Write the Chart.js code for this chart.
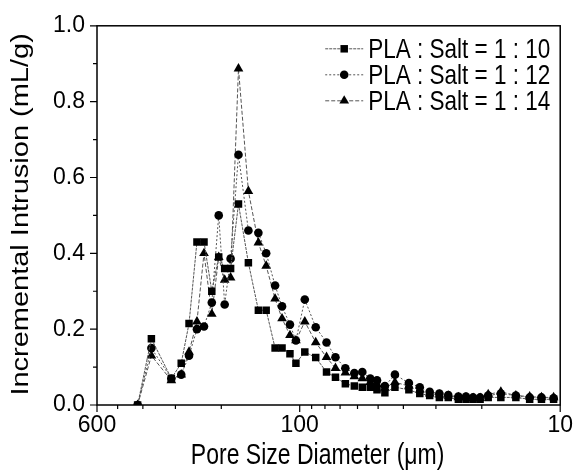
<!DOCTYPE html>
<html><head><meta charset="utf-8">
<script src="https://cdn.jsdelivr.net/npm/chart.js@4.4.0/dist/chart.umd.min.js"></script>
<style>html,body{margin:0;padding:0;background:#fff;}#wrap{width:580px;height:474px;}</style>
</head><body><div id="wrap"><canvas id="c" width="580" height="474"></canvas></div>
<script>
const poreDiameters = [419, 371, 311, 285, 266, 248, 233, 217.5, 204.6, 194.1, 184.2, 171.8, 157.4, 144.1, 134.5, 124.3, 116.9, 109.0, 103.4, 95.6, 86.8, 78.9, 72.9, 66.8, 61.7, 57.5, 53.6, 50.5, 47.1, 43.1, 38.1, 34.6, 31.7, 29.1, 26.9, 24.6, 23.0, 21.6, 20.3, 18.9, 16.9, 14.8, 13.1, 11.8, 10.6];
const salt10 = [0.0, 0.175, 0.07, 0.11, 0.215, 0.43, 0.43, 0.30, 0.39, 0.36, 0.36, 0.53, 0.375, 0.25, 0.25, 0.15, 0.15, 0.135, 0.11, 0.14, 0.125, 0.087, 0.073, 0.056, 0.05, 0.047, 0.047, 0.04, 0.032, 0.047, 0.04, 0.03, 0.025, 0.02, 0.02, 0.015, 0.015, 0.015, 0.015, 0.02, 0.02, 0.02, 0.015, 0.015, 0.015];
const salt12 = [0.0, 0.15, 0.07, 0.08, 0.13, 0.2, 0.207, 0.27, 0.50, 0.265, 0.386, 0.66, 0.46, 0.454, 0.40, 0.315, 0.26, 0.212, 0.17, 0.278, 0.205, 0.165, 0.126, 0.097, 0.084, 0.087, 0.07, 0.065, 0.05, 0.08, 0.058, 0.047, 0.035, 0.03, 0.026, 0.022, 0.022, 0.02, 0.02, 0.025, 0.03, 0.025, 0.02, 0.02, 0.018];
const salt14 = [0.0, 0.13, 0.065, 0.08, 0.14, 0.22, 0.40, 0.24, 0.39, 0.33, 0.336, 0.887, 0.564, 0.428, 0.367, 0.28, 0.228, 0.184, 0.17, 0.22, 0.165, 0.126, 0.097, 0.085, 0.075, 0.07, 0.06, 0.055, 0.045, 0.06, 0.05, 0.04, 0.03, 0.027, 0.024, 0.02, 0.02, 0.018, 0.018, 0.028, 0.035, 0.025, 0.022, 0.02, 0.02];
const seriesLabels = ['PLA : Salt = 1 : 10', 'PLA : Salt = 1 : 12', 'PLA : Salt = 1 : 14'];
const seriesMarkers = ['rect', 'circle', 'triangle'];
const xTickLabels = [600, 100, 10];
const xMinorTicks = [500, 400, 300, 200, 90, 80, 70, 60, 50, 40, 30, 20];
const yTicks = [0, 0.2, 0.4, 0.6, 0.8, 1.0];
const yMinorTicks = [0.1, 0.3, 0.5, 0.7, 0.9];
const xTitle = 'Pore Size Diameter (\u03bcm)';
const yTitle = 'Incremental Intrusion (mL/g)';

const FONT = 'Liberation Sans, Arial, sans-serif';
const seriesValues = [salt10, salt12, salt14];
const markerRadius = [5.3, 4.3, 5.6];
const dashes = [[3, 1], [2, 2], [4, 2]];
const STRETCH = 1.26; // text in the figure is taller than wide

const datasets = seriesValues.map((vals, i) => ({
  label: seriesLabels[i],
  data: poreDiameters.map((d, k) => ({x: d, y: vals[k]})),
  borderColor: '#555',
  borderWidth: 1,
  borderDash: dashes[i],
  backgroundColor: '#000',
  pointBackgroundColor: '#000',
  pointBorderColor: '#000',
  pointBorderWidth: 0,
  pointStyle: seriesMarkers[i],
  pointRadius: markerRadius[i],
  tension: 0,
  fill: false
}));

function stretchedText(ctx, text, x, y, size, align, rot) {
  ctx.save();
  ctx.translate(x, y);
  if (rot) ctx.rotate(rot);
  if (rot) ctx.scale(STRETCH, 1); else ctx.scale(1, STRETCH);
  ctx.font = size + 'px ' + FONT;
  ctx.textAlign = align;
  ctx.textBaseline = 'middle';
  ctx.fillStyle = '#000';
  ctx.fillText(text, 0, 0);
  ctx.restore();
}

const framePlugin = {
  id: 'frame',
  afterDraw(chart) {
    const {ctx, chartArea: a, scales: {x, y}} = chart;
    ctx.save();
    ctx.strokeStyle = '#000';
    ctx.lineWidth = 1.5;
    ctx.strokeRect(a.left, a.top, a.right - a.left, a.bottom - a.top);
    ctx.lineWidth = 1.2;
    ctx.beginPath();
    yTicks.forEach(v => { const p = y.getPixelForValue(v); ctx.moveTo(a.left - 7, p); ctx.lineTo(a.left, p); });
    yMinorTicks.forEach(v => { const p = y.getPixelForValue(v); ctx.moveTo(a.left - 4, p); ctx.lineTo(a.left, p); });
    xTickLabels.forEach(v => { const p = x.getPixelForValue(v); ctx.moveTo(p, a.bottom); ctx.lineTo(p, a.bottom + 7); });
    xMinorTicks.forEach(v => { const p = x.getPixelForValue(v); ctx.moveTo(p, a.bottom); ctx.lineTo(p, a.bottom + 4); });
    ctx.stroke();
    // axis titles
    stretchedText(ctx, xTitle, (a.left + a.right) / 2 - 11, a.bottom + 51, 23, 'center', 0);
    stretchedText(ctx, yTitle, 22, (a.top + a.bottom) / 2 - 1, 23, 'center', -Math.PI / 2);
    // legend
    chart.data.datasets.forEach((ds, i) => {
      const yy = a.top + 23 + i * 26;
      const x0 = a.right - 235, x1 = a.right - 197, xm = (x0 + x1) / 2;
      ctx.strokeStyle = '#555';
      ctx.lineWidth = 1;
      ctx.setLineDash(ds.borderDash);
      ctx.beginPath(); ctx.moveTo(x0, yy); ctx.lineTo(x1, yy); ctx.stroke();
      ctx.setLineDash([]);
      ctx.fillStyle = '#000';
      ctx.strokeStyle = '#000';
      Chart.helpers.drawPoint(ctx, {pointStyle: ds.pointStyle, radius: ds.pointRadius, borderWidth: 0, rotation: 0}, xm, yy);
      stretchedText(ctx, ds.label, a.right - 192, yy + 1, 22.5, 'left', 0);
    });
    ctx.restore();
  }
};

new Chart(document.getElementById('c'), {
  type: 'line',
  data: {datasets},
  options: {
    responsive: false,
    animation: false,
    devicePixelRatio: 1,
    layout: {padding: {top: 24, right: 15, left: 0, bottom: 0}},
    plugins: {legend: {display: false}, tooltip: {enabled: false}},
    scales: {
      x: {
        type: 'logarithmic',
        reverse: true,
        min: 10, max: 600,
        afterBuildTicks: s => { s.ticks = xTickLabels.map(v => ({value: v})); },
        afterFit: s => { s.height = 69; },
        grid: {display: false, drawTicks: false},
        border: {display: false},
        ticks: {color: '#000', font: {family: FONT, size: 23}, padding: 7, maxRotation: 0, autoSkip: false, callback: v => String(v)},
        title: {display: false}
      },
      y: {
        type: 'linear',
        min: 0, max: 1,
        afterBuildTicks: s => { s.ticks = yTicks.map(v => ({value: v})); },
        afterFit: s => { s.width = 97; },
        grid: {display: false, drawTicks: false},
        border: {display: false},
        ticks: {color: '#000', font: {family: FONT, size: 23}, padding: 12, callback: v => Number(v).toFixed(1)},
        title: {display: false}
      }
    }
  },
  plugins: [framePlugin]
});
</script></body></html>
